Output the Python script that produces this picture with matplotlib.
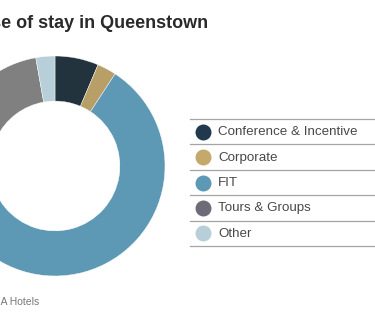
import matplotlib
matplotlib.use("Agg")
from matplotlib import pyplot as plt

# purpose of stay shares (%), read from the donut
categories = ["Conference & Incentive", "Corporate", "FIT", "Tours & Groups", "Other"]
shares = [6.4, 2.8, 73.0, 15.0, 2.8]
colors = ["#22333d", "#b89f68", "#5d98b5", "#808080", "#b8cfd9"]
legend_colors = ["#22394d", "#c4a86c", "#5d98b5", "#6e6a78", "#b8cfd9"]

title = "Purpose of stay in Queenstown"
source = "Source: TIA Hotels"

plt.rcParams["font.family"] = ["Liberation Sans", "DejaVu Sans"]

W, H = 375, 318
fig = plt.figure(figsize=(W / 100, H / 100), dpi=100)

# donut, partly outside the left edge of the figure (cropped like the original)
cx, cy, r = 55, 166, 110
ax = fig.add_axes([(cx - r) / W, (H - cy - r) / H, 2 * r / W, 2 * r / H])
ax.pie(shares, colors=colors, startangle=90, counterclock=False,
       radius=1.0, wedgeprops=dict(width=0.41, edgecolor="white", linewidth=0.3))
ax.set_xlim(-1, 1)
ax.set_ylim(-1, 1)
ax.set_aspect("equal")
ax.axis("off")

# legend drawn as a table of rows
lg = fig.add_axes([0, 0, 1, 1])
lg.set_xlim(0, W)
lg.set_ylim(H, 0)
lg.axis("off")
top, step = 119, 25.4
for i, (name, c) in enumerate(zip(categories, legend_colors)):
    y0 = top + i * step
    lg.plot([190, W], [y0, y0], color="#a5a5a5", lw=0.9)
    lg.scatter([203], [y0 + step / 2], s=110, color=c, zorder=3)
    lg.text(218, y0 + step / 2 + 0.5, name, fontsize=9.6, color="#484848",
            va="center", ha="left")
lg.plot([190, W], [top + 5 * step, top + 5 * step], color="#a5a5a5", lw=0.9)

fig.text(208 / W, 1 - 28 / H, title, fontsize=13, fontweight="bold",
         color="#2a2a2a", ha="right", va="baseline")
fig.text(39 / W, 1 - 305 / H, source, fontsize=7.5, color="#777777",
         ha="right", va="baseline")

fig.savefig("out.png", dpi=100)
